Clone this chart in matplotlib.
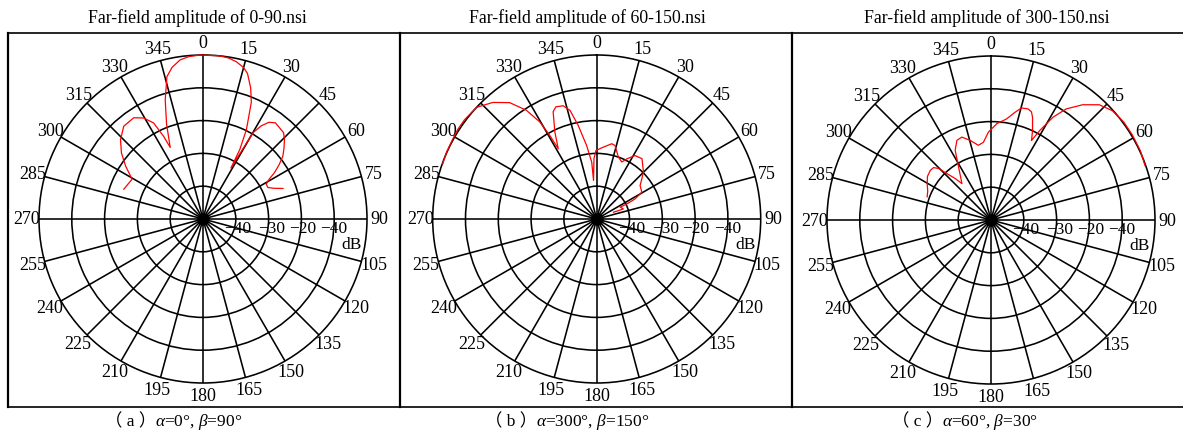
import numpy as np
import matplotlib
matplotlib.use("Agg")
import matplotlib.pyplot as plt
from matplotlib.lines import Line2D

plt.rcParams['font.family'] = ['Liberation Serif', 'DejaVu Serif']
plt.rcParams['mathtext.fontset'] = 'custom'
plt.rcParams['mathtext.rm'] = 'Liberation Serif'
plt.rcParams['mathtext.it'] = 'Liberation Serif:italic'

# ---------------- data ----------------
titles = ["Far-field amplitude of 0-90.nsi",
          "Far-field amplitude of 60-150.nsi",
          "Far-field amplitude of 300-150.nsi"]
cap_tags = ["（ a ）", "（ b ）", "（ c ）"]
cap_params = [r"$\alpha$=0°, $\beta$=90°",
              r"$\alpha$=300°, $\beta$=150°",
              r"$\alpha$=60°, $\beta$=30°"]

angle_ticks = list(range(0, 360, 15))
ring_values = [-40, -30, -20, -10, 0]
ring_labels = ["−40", "−30", "−20", "−40"]

# angles in degrees (clockwise from north, unwrapped), amplitude in dB
theta_a = [290.6, 299.3, 304.4, 309.0, 313.9, 319.5, 325.6, 329.6, 332.8, 334.5, 335.4,
           339.0, 342.4, 345.8, 348.5, 351.8, 355.0, 359.0, 365.9, 369.0, 372.0, 375.0,
           377.0, 380.0, 382.5, 385.9, 387.9, 388.7,
           390.1, 392.0, 394.3, 397.0, 400.0, 403.0, 405.7, 408.5, 411.8, 414.5, 417.0,
           419.0, 421.2, 424.1, 426.5, 429.1]
db_a = [-24.2, -25.2, -21.4, -18.0, -15.1, -12.8, -12.6, -14.3, -17.1, -22.0, -26.0,
        -19.0, -11.9, -5.2, -2.8, -1.0, -0.3, 0.0, 0.0, -0.3, -1.0, -2.2,
        -3.6, -7.5, -11.5, -19.7, -26.0, -32.3,
        -19.6, -16.5, -14.3, -13.3, -13.7, -14.0, -15.3, -17.0, -19.0, -21.5, -24.0,
        -26.5, -28.0, -28.0, -26.5, -23.9]

theta_b = [289.7, 294.0, 299.2, 303.0, 306.9, 312.9, 318.3, 323.2, 327.1, 329.6, 330.7,
           331.3, 334.3, 337.9, 340.0, 343.5, 346.2, 348.8, 352.2, 355.0, 355.3,
           357.4, 359.4, 365.3, 371.3, 374.0, 379.3, 383.8, 386.6, 391.2, 396.9,
           404.9, 412.4, 419.3, 422.4, 423.4, 423.3, 429.4, 428.0]
db_b = [-0.1, 0.1, 0.2, 0.4, 0.4, 0.0, -2.4, -5.7, -10.5, -15.7, -20.8,
        -25.6, -20.6, -14.7, -13.6, -14.0, -15.9, -20.9, -27.4, -32.6, -38.2,
        -31.6, -29.1, -28.0, -26.6, -26.9, -30.0, -31.0, -29.5, -27.4, -27.0,
        -29.8, -33.3, -34.0, -36.8, -39.7, -42.0, -41.3, -44.5]

theta_c = [289.9, 294.5, 299.7, 304.5, 309.3, 312.4, 314.5, 316.5, 319.2, 321.4, 328.5,
           332.8, 336.8, 340.6, 345.3, 350.4, 354.4, 358.3, 363.4, 368.8, 372.5, 375.2,
           378.5, 380.5, 382.0, 384.9, 387.0, 388.6, 391.1, 394.1, 398.5, 403.2, 408.0,
           413.6, 418.9, 425.1, 430.5]
db_c = [-29.3, -28.8, -27.6, -26.5, -26.1, -26.3, -27.6, -30.5, -33.3, -35.8, -31.1,
        -26.1, -23.6, -23.2, -24.9, -26.9, -26.2, -23.2, -20.6, -18.8, -16.4, -14.6,
        -14.3, -14.8, -16.2, -19.9, -22.8, -18.9, -13.4, -9.1, -5.1, -1.8, -0.2,
        0.3, 0.3, 0.2, -0.2]

series = [(theta_a, db_a), (theta_b, db_b), (theta_c, db_c)]

# ---------------- layout ----------------
W, H = 1183, 435
fig = plt.figure(figsize=(W / 100, H / 100), dpi=100)

centers = [(203.0, 220.0), (596.7, 220.0), (991.0, 221.0)]
R = 164.0
title_x = [197, 587.5, 986.7]
cap_split = [152.0, 533.0, 939.0]

rmin, rmax = -50, 0

for i, ((cx, cy), (th, db)) in enumerate(zip(centers, series)):
    ax = fig.add_axes([(cx - R) / W, 1 - (cy + R) / H, 2 * R / W, 2 * R / H],
                      projection='polar')
    ax.set_theta_zero_location('N')
    ax.set_theta_direction(-1)
    ax.set_ylim(rmin, rmax)
    ax.set_thetagrids(angle_ticks, labels=[])
    ax.set_rgrids(ring_values[:-1], labels=[])
    ax.grid(True, color='black', lw=1.15)
    ax.spines['polar'].set_color('black')
    ax.spines['polar'].set_linewidth(1.15)
    ax.patch.set_alpha(0)
    ax.tick_params(length=0)

    # centre blob where the spokes converge
    ax.plot([0], [rmin], 'o', color='black', ms=8, zorder=4)

    # angle labels
    for a in angle_ticks:
        ax.text(np.deg2rad(a), 3.8, str(a), ha='center', va='center',
                fontsize=13, clip_on=False)

    # radial labels
    for lab, xf in zip(ring_labels, [0.607, 0.71, 0.803, 0.898]):
        ax.text(xf, 0.474, lab, transform=ax.transAxes, ha='center',
                va='center', fontsize=12.5)
    ax.text(0.953, 0.425, "dB", transform=ax.transAxes, ha='center',
            va='center', fontsize=12.5)

    # curve
    ax.plot(np.deg2rad(th), db, color='#ff0000', lw=0.9, clip_on=False, zorder=5)

    # title and caption
    fig.text(title_x[i] / W, 1 - 18 / H, titles[i], ha='center', va='center',
             fontsize=12.8)
    fig.text((cap_split[i] + 4) / W, 1 - 422 / H, cap_tags[i], ha='right',
             va='center', fontsize=12.5,
             family=['Liberation Serif', 'Noto Sans CJK SC'])
    fig.text((cap_split[i] + 3) / W, 1 - 422 / H, cap_params[i], ha='left',
             va='center', fontsize=12.5)

# frame lines
ytop = 1 - 33.5 / H
ybot = 1 - 407.5 / H
fig.add_artist(Line2D([8 / W, 1], [ytop, ytop], color='black', lw=1.2,
                      transform=fig.transFigure))
fig.add_artist(Line2D([8 / W, 1], [ybot, ybot], color='black', lw=1.2,
                      transform=fig.transFigure))
for xv in [8, 400, 792]:
    fig.add_artist(Line2D([xv / W, xv / W], [ybot, ytop], color='black', lw=1.6,
                          transform=fig.transFigure))

fig.savefig("out.png", dpi=100)
